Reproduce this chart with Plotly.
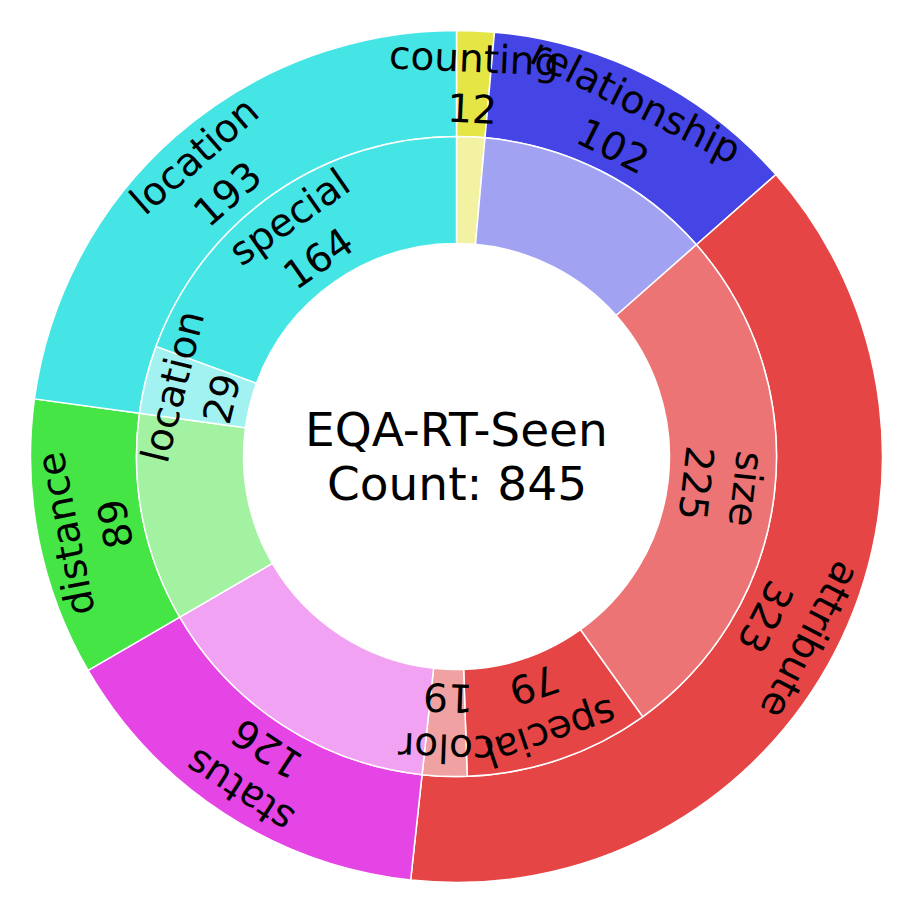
import math
import plotly.graph_objects as go

# ---- data ----
outer_labels = ["counting", "relationship", "attribute", "status", "distance", "location"]
outer_values = [12, 102, 323, 126, 89, 193]
outer_colors = ["#E5E545", "#4545E5", "#E54545", "#E545E5", "#45E545", "#45E5E5"]

inner_parents = ["counting", "relationship", "attribute", "attribute", "attribute",
                 "status", "distance", "location", "location"]
inner_labels = ["counting", "relationship", "size", "special", "color",
                "status", "distance", "location", "special"]
inner_values = [12, 102, 225, 79, 19, 126, 89, 29, 164]
inner_colors = ["#F2F2A2", "#A2A2F2", "#EC7474", "#E54545", "#F0A2A2",
                "#F2A2F2", "#A2F2A2", "#A2F2F2", "#45E5E5"]
# parents whose children get their own labels
labelled_parents = ["attribute", "location"]

title_text = "EQA-RT-Seen"
total = sum(outer_values)

# ---- geometry (pixels, figure coordinates; page body adds 8px offset) ----
W = H = 905
CX, CY = 448.5, 448.5
R_OUT = 426
R_MID = 320
R_IN = 213
LABEL_FONT = 39
CENTER_FONT = 47

fig = go.Figure()

def dom(r):
    return dict(x=[(CX - r) / W, (CX + r) / W], y=[1 - (CY + r) / H, 1 - (CY - r) / H])

fig.add_trace(go.Pie(
    labels=outer_labels, values=outer_values, sort=False, direction="clockwise",
    rotation=0, hole=R_MID / R_OUT, domain=dom(R_OUT),
    marker=dict(colors=outer_colors, line=dict(color="white", width=1.5)),
    textinfo="none", hoverinfo="label+value", showlegend=False,
))
fig.add_trace(go.Pie(
    labels=[f"{p}/{c}" for p, c in zip(inner_parents, inner_labels)],
    values=inner_values, sort=False, direction="clockwise",
    rotation=0, hole=R_IN / R_MID, domain=dom(R_MID),
    marker=dict(colors=inner_colors, line=dict(color="white", width=1.5)),
    textinfo="none", hoverinfo="label+value", showlegend=False,
))

def add_ring_labels(names, values, mask, radius):
    cum = 0
    tot = sum(values)
    for name, v, show in zip(names, values, mask):
        mid = (cum + v / 2) / tot * 360.0
        cum += v
        if not show:
            continue
        th = math.radians(mid)
        px = CX + radius * math.sin(th)
        py = CY - radius * math.cos(th)
        ang = mid
        if ang > 180:
            ang -= 360
        fig.add_annotation(
            x=px / W, y=1 - py / H, xref="paper", yref="paper",
            text=f"{name}<br>{v}", showarrow=False, textangle=ang,
            xanchor="center", yanchor="middle",
            font=dict(family="DejaVu Sans", size=LABEL_FONT, color="black"),
        )

add_ring_labels(outer_labels, outer_values, [True] * len(outer_values), (R_OUT + R_MID) / 2)
add_ring_labels(inner_labels, inner_values,
                [p in labelled_parents for p in inner_parents], (R_MID + R_IN) / 2)

for txt, dy in [(title_text, -27), (f"Count: {total}", 27)]:
    fig.add_annotation(
        x=CX / W, y=1 - (CY + dy) / H, xref="paper", yref="paper",
        text=txt, showarrow=False, xanchor="center", yanchor="middle",
        font=dict(family="DejaVu Sans", size=CENTER_FONT, color="black"),
    )

fig.update_layout(
    width=W, height=H, margin=dict(l=0, r=0, t=0, b=0),
    paper_bgcolor="white", plot_bgcolor="white",
)
fig.write_html("out.html")
